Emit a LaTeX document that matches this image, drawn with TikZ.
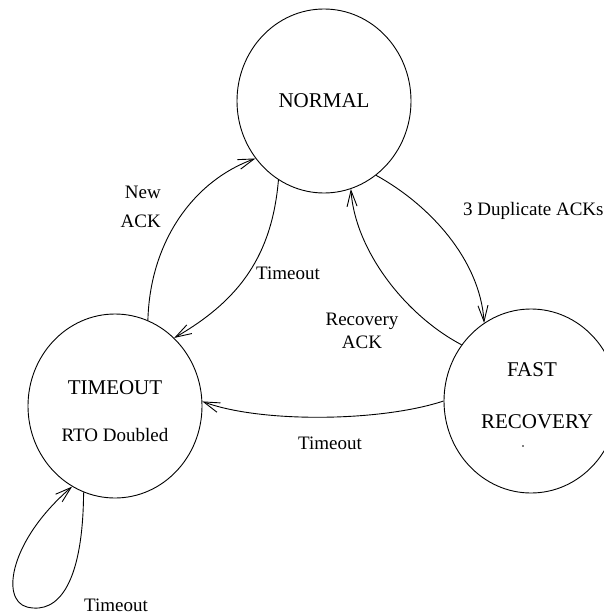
\documentclass[tikz,border=0pt]{standalone}
\usepackage{fontspec}
\setmainfont{Liberation Serif}
\usetikzlibrary{arrows.meta,shapes.geometric}
\tikzset{
  state/.style={draw, ellipse, line width=0.9pt, minimum width=174pt, minimum height=184pt, inner sep=0pt},
  conn/.style={line width=0.9pt, -{Straight Barb[length=16pt,width=10pt,line width=0.9pt]}},
  big/.style={font=\fontsize{21}{25}\selectfont, inner sep=0pt},
  lbl/.style={font=\fontsize{19}{23}\selectfont, inner sep=0pt}
}
\begin{document}
\begin{tikzpicture}[x=1pt,y=-1pt]
\clip (0,0) rectangle (604,615);
\fill[white] (0,0) rectangle (604,615);
% states
\node[state] (normal) at (324,101) {};
\node[state] (timeout) at (115,406) {};
\node[state] (fast) at (531,401) {};
% state texts
\node[big] (tn) at (324,101) {NORMAL};
\node[big] (tt) at (115,388) {TIMEOUT};
\node[lbl] (tr) at (115,435) {RTO Doubled};
\node[big] (tf) at (532,370) {FAST};
\node[big] (tfr) at (537,422) {RECOVERY};
\fill (523,446) circle (0.8);
% connectors
\draw[conn] (timeout.69) .. controls (150,240) and (195,180) .. (normal.220);
\draw[conn] (normal.240) .. controls (272,255) and (240,300) .. (timeout.49);
\draw[conn] (normal.305) .. controls (430,205) and (480,260) .. (fast.121);
\draw[conn] (fast.141) .. controls (405,315) and (355,250) .. (normal.287);
\draw[conn] (fast.180) .. controls (380,422) and (260,423) .. (timeout.3);
\draw[conn] (timeout.250) .. controls (83,580) and (60,615) .. (27,607)
  .. controls (0,600) and (10,540) .. (timeout.242);
% labels
\node[lbl, align=right, anchor=east, font=\fontsize{19}{29}\selectfont] (l1) at (161,207) {New\\ACK};
\node[lbl] (l2) at (288,273) {Timeout};
\node[lbl, anchor=west] (l3) at (463,211) {3 Duplicate ACKs};
\node[lbl, align=center] (l4) at (362,331) {Recovery\\ACK};
\node[lbl] (l5) at (330,443) {Timeout};
\node[lbl] (l6) at (116,605) {Timeout};
\end{tikzpicture}
\end{document}
